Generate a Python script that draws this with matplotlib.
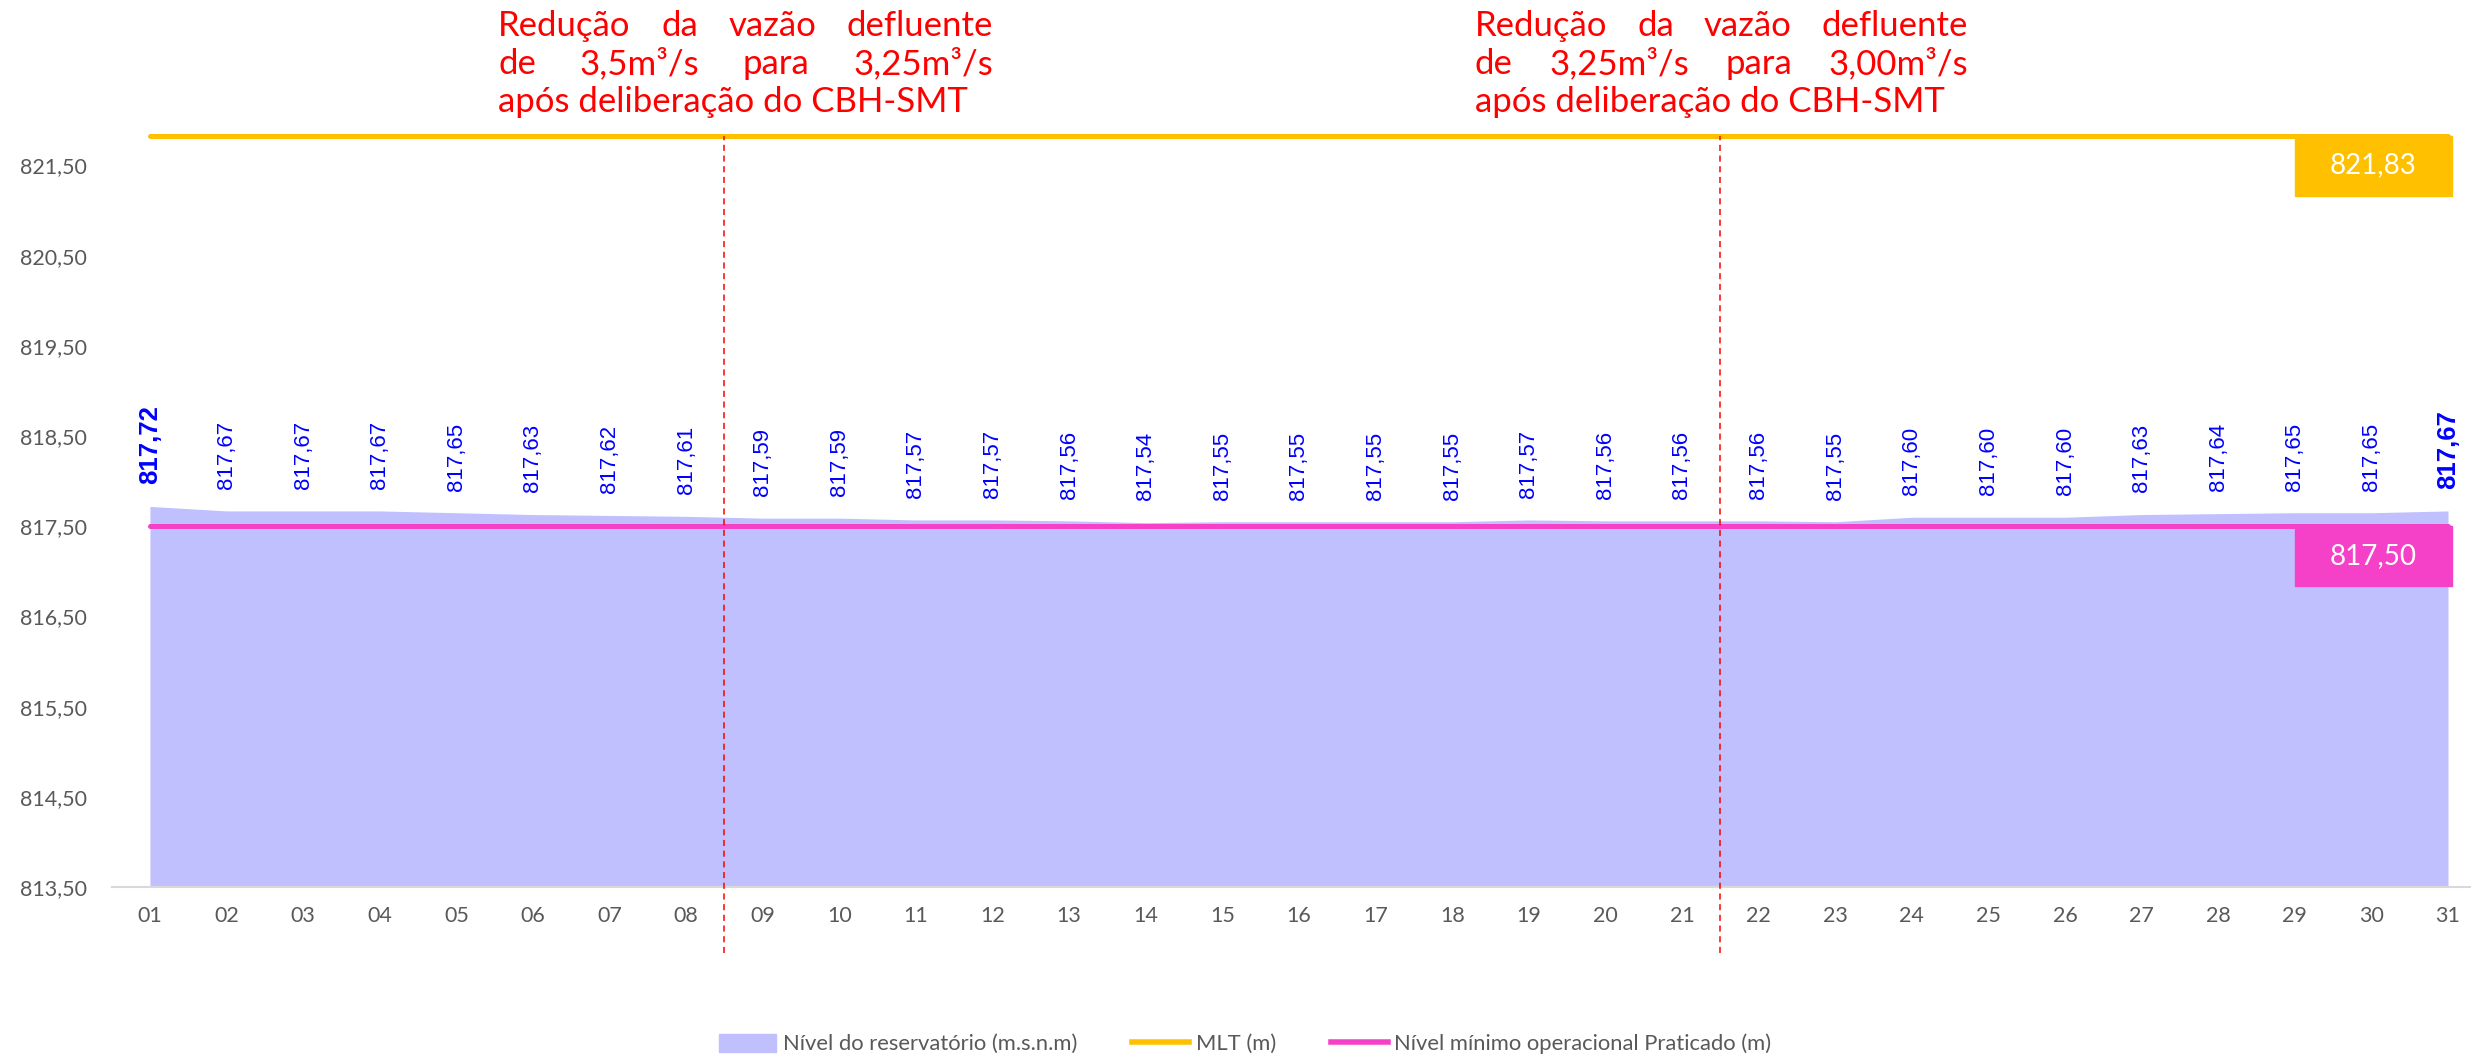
import matplotlib
matplotlib.use("Agg")
import matplotlib.pyplot as plt
import numpy as np
from matplotlib.patches import Patch, Rectangle
from matplotlib.lines import Line2D

# daily reservoir level (m.s.n.m)
days = [f"{d:02d}" for d in range(1, 32)]
nivel = [817.72, 817.67, 817.67, 817.67, 817.65, 817.63, 817.62, 817.61,
         817.59, 817.59, 817.57, 817.57, 817.56, 817.54, 817.55, 817.55,
         817.55, 817.55, 817.57, 817.56, 817.56, 817.56, 817.55, 817.60,
         817.60, 817.60, 817.63, 817.64, 817.65, 817.65, 817.67]
mlt = 821.83
nivel_min = 817.50
y_ticks = [813.5, 814.5, 815.5, 816.5, 817.5, 818.5, 819.5, 820.5, 821.5]

# flow reductions happen between these days
change_after = ["08", "21"]
notes = [
    [["Redução", "da", "vazão", "defluente"],
     ["de", "3,5m³/s", "para", "3,25m³/s"],
     ["após deliberação do CBH-SMT"]],
    [["Redução", "da", "vazão", "defluente"],
     ["de", "3,25m³/s", "para", "3,00m³/s"],
     ["após deliberação do CBH-SMT"]],
]

AREA = "#C0C0FF"
GOLD = "#FFC000"
PINK = "#F541C8"
GRAY = "#595959"
CAL = "Lato"

W, H = 2471, 1055
fig = plt.figure(figsize=(W / 100, H / 100), dpi=100)
ax = fig.add_axes([0.0453, 0.1592, 0.9547, 0.7267])

x = np.arange(1, len(days) + 1)
ax.fill_between(x, nivel, 813.5, color=AREA, lw=0, zorder=1)
ax.plot(x, [mlt] * len(x), color=GOLD, lw=3.6, solid_capstyle="round", zorder=3)
ax.plot(x, [nivel_min] * len(x), color=PINK, lw=3.6, solid_capstyle="round", zorder=3)

ax.set_xlim(0.504, 31.3)
ax.set_ylim(813.5, 822.0)
ax.set_xticks(x)
ax.set_xticklabels(days, fontsize=15.5, color=GRAY, family=CAL)
ax.set_yticks(y_ticks)
ax.set_yticklabels([f"{v:.2f}".replace(".", ",") for v in y_ticks],
                   fontsize=15.5, color=GRAY, family=CAL)
ax.tick_params(axis="both", length=0)
ax.tick_params(axis="y", pad=18)
ax.tick_params(axis="x", pad=14)
for s in ["top", "right", "left"]:
    ax.spines[s].set_visible(False)
ax.spines["bottom"].set_color("#D9D9D9")
ax.spines["bottom"].set_linewidth(1.5)

# data labels, first and last in bold
for i, v in enumerate(nivel):
    bold = i in (0, len(nivel) - 1)
    ax.annotate(f"{v:.2f}".replace(".", ","), (x[i], v), xytext=(0, 16),
                textcoords="offset points", rotation=90, ha="center", va="bottom",
                color="#0000FF", family="Liberation Sans",
                fontsize=18.5 if bold else 16, fontweight="bold" if bold else "normal")

# dashed markers for the flow changes
for d in change_after:
    xc = days.index(d) + 1.5
    ax.plot([xc, xc], [812.77, mlt], color="red", ls=(0, (4, 3)), lw=1.1,
            clip_on=False, zorder=4)

# value boxes on the right
for level, col in [(mlt, GOLD), (nivel_min, PINK)]:
    ax.add_patch(Rectangle((29.0, level - 0.665), 2.05, 0.665, color=col,
                           zorder=5, clip_on=False))
    ax.text(30.02, level - 0.33, f"{level:.2f}".replace(".", ","), color="white",
            ha="center", va="center", fontsize=20, family=CAL, zorder=6)

# justified red notes above the plot
renderer = fig.canvas.get_renderer()


def justified(words, x0, x1, base):
    yf = 1 - base / H
    if len(words) == 1:
        fig.text(x0 / W, yf, words[0], color="red", fontsize=25, family=CAL,
                 va="baseline", ha="left")
        return
    ts = [fig.text(0, yf, w, color="red", fontsize=25, family=CAL, va="baseline")
          for w in words]
    widths = [t.get_window_extent(renderer).width for t in ts]
    gap = (x1 - x0 - sum(widths)) / (len(ts) - 1)
    pos = x0
    for t, w in zip(ts, widths):
        t.set_x(pos / W)
        pos += w + gap


blocks = [(498, 993), (1475, 1968)]
for (x0, x1), lines in zip(blocks, notes):
    for line, base in zip(lines, [36, 74, 112]):
        justified(line, x0, x1, base)

handles = [Patch(color=AREA), Line2D([], [], color=GOLD, lw=4),
           Line2D([], [], color=PINK, lw=4)]
labels = ["Nível do reservatório (m.s.n.m)", "MLT (m)",
          "Nível mínimo operacional Praticado (m)"]
fig.legend(handles, labels, loc="lower center", bbox_to_anchor=(0.504, -0.018),
           ncol=3, frameon=False, handlelength=2.6, handleheight=0.9,
           handletextpad=0.3, columnspacing=2.5,
           prop={"family": CAL, "size": 15.8}, labelcolor=GRAY)

fig.savefig("out.png", dpi=100)
